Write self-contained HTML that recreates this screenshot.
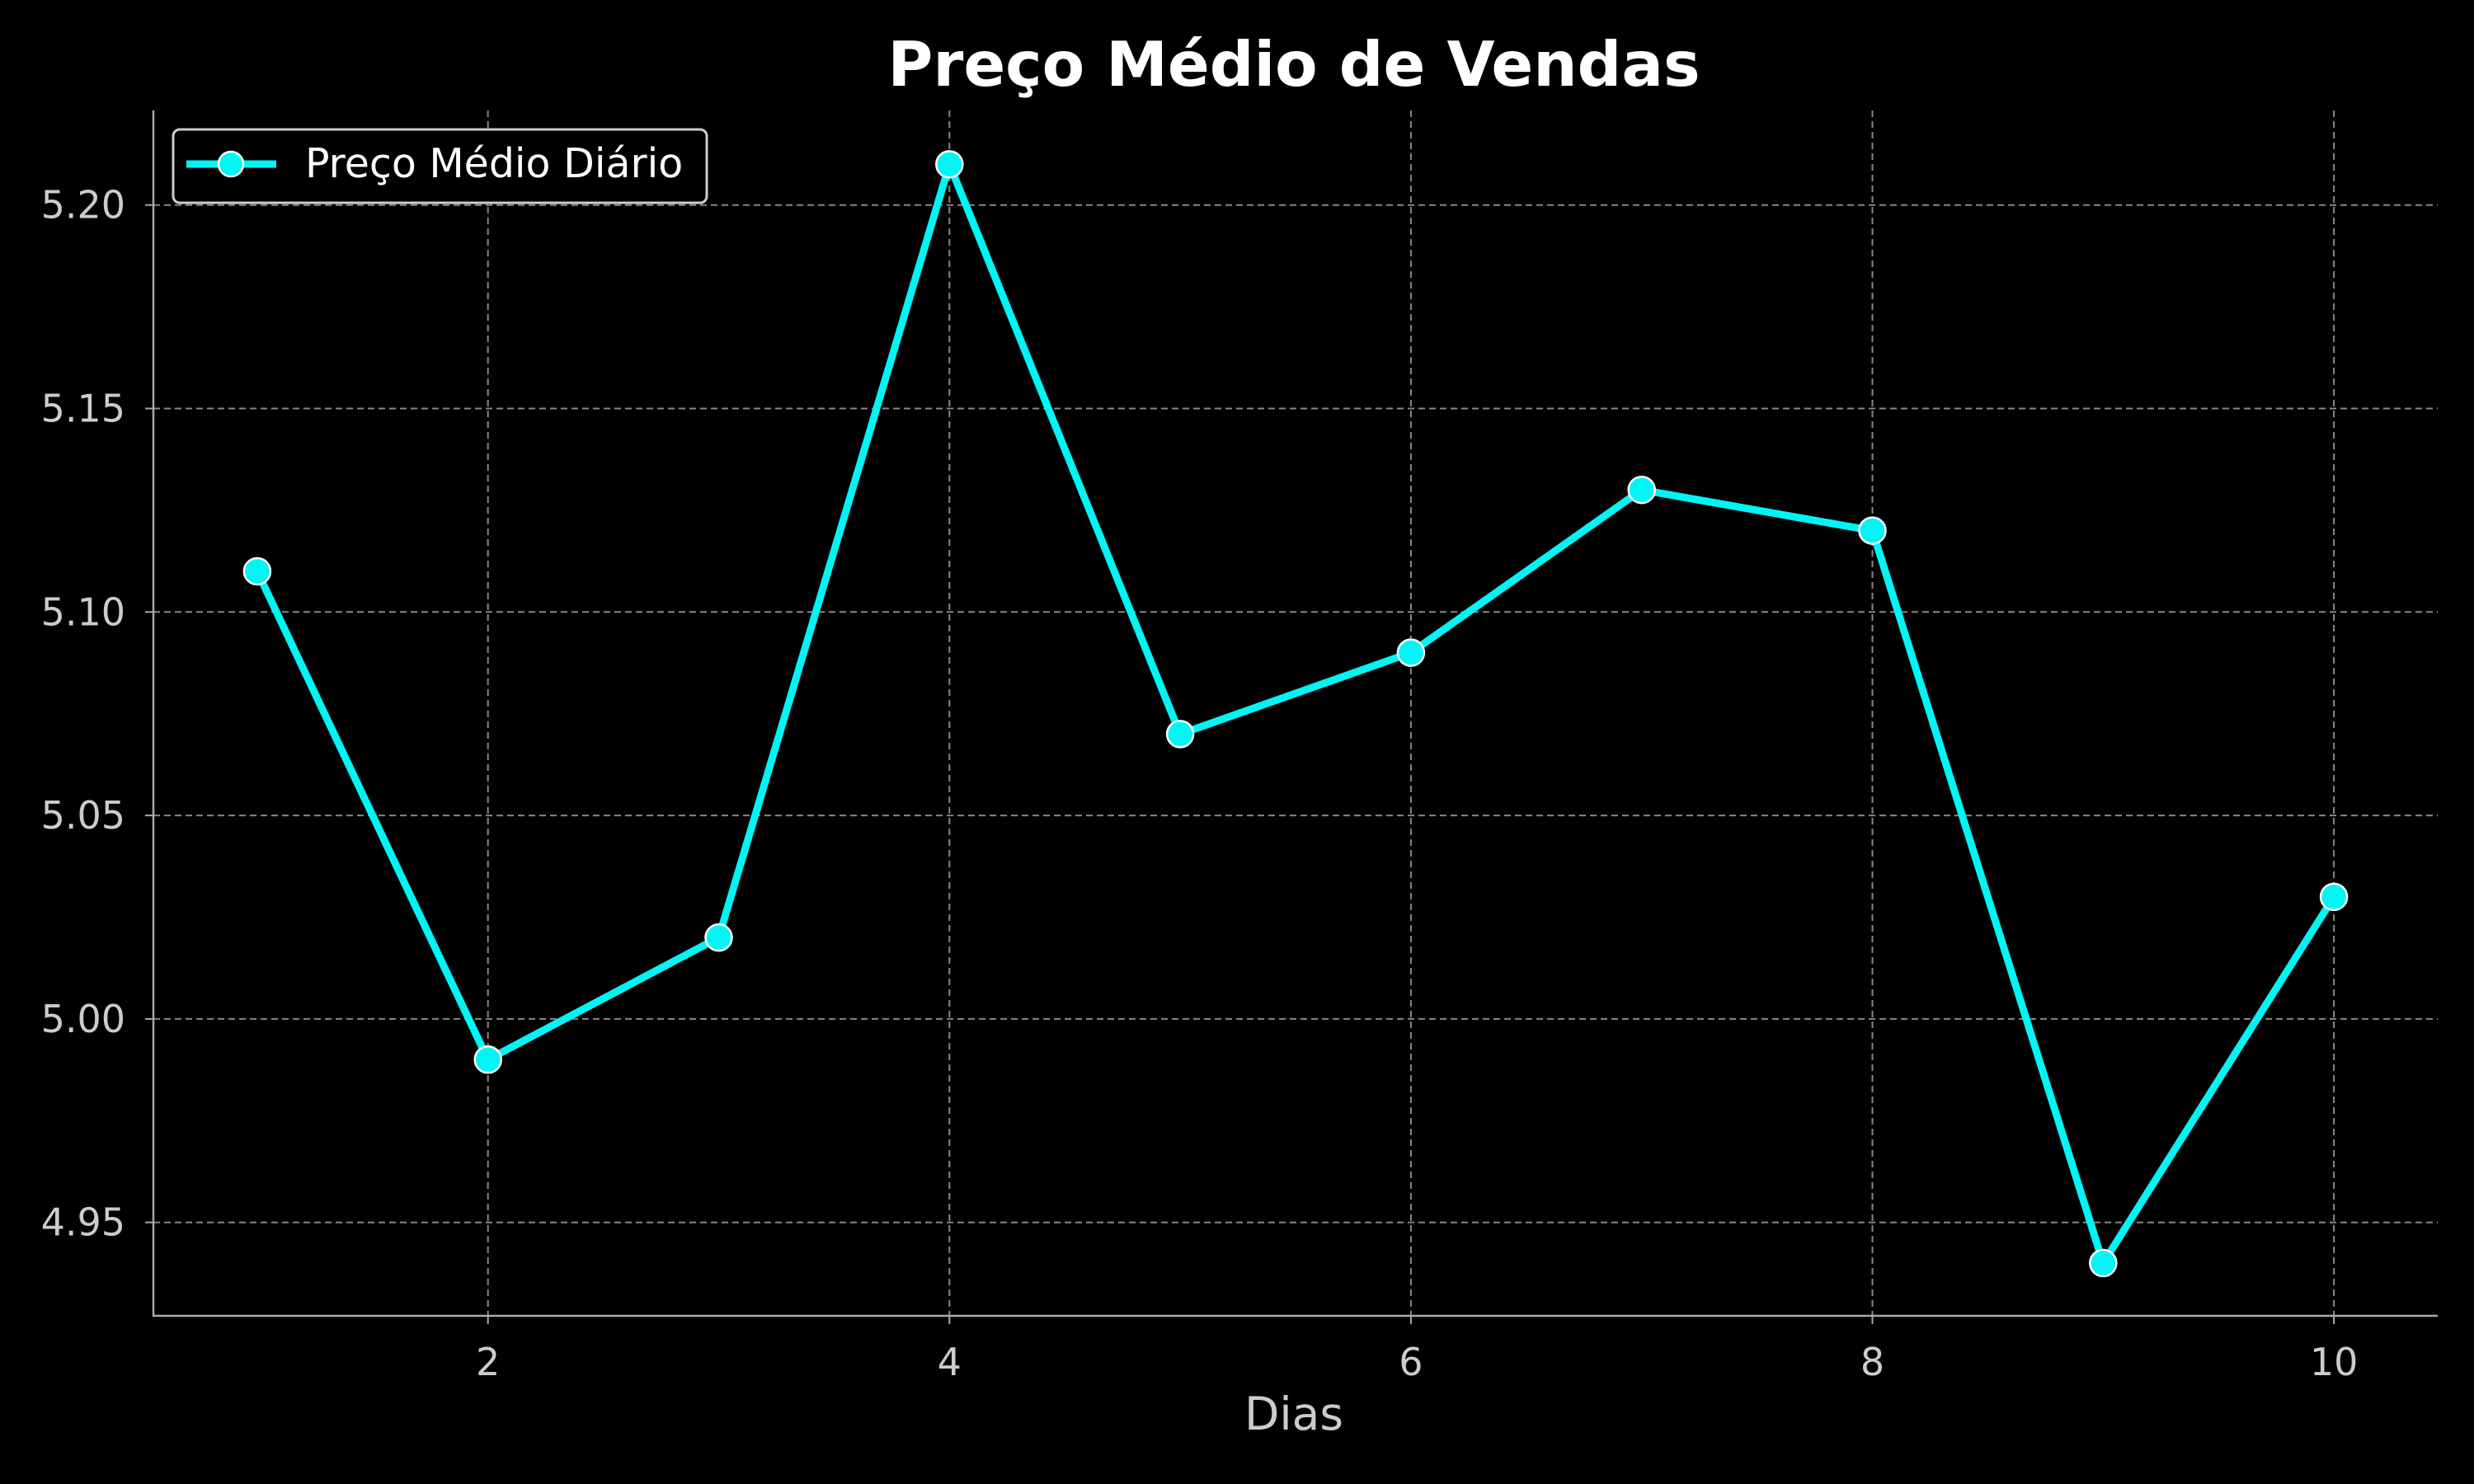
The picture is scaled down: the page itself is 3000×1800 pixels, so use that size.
<!DOCTYPE html>
<html><head><meta charset="utf-8"><style>
html,body{margin:0;padding:0;background:#000;}
svg{display:block;font-family:"DejaVu Sans","Liberation Sans",sans-serif;}
</style></head><body>
<svg id="chart" width="3000" height="1800" viewBox="0 0 3000 1800">
<rect width="3000" height="1800" fill="#000"/>
<text x="1569" y="104" text-anchor="middle" font-size="75" font-weight="bold" fill="#fff">Preço Médio de Vendas</text>
<g id="grid"></g><g id="axes"></g><g id="series"></g>
<text x="1569" y="1734" text-anchor="middle" font-size="55" fill="#ccc">Dias</text>
<g>
<rect x="210" y="157" width="647" height="89" rx="8" fill="#000" stroke="#ccc" stroke-width="3"/>
<line x1="226" y1="199" x2="335" y2="199" stroke="#00f5f5" stroke-width="9"/>
<circle cx="280" cy="199" r="15" fill="#00f5f5" stroke="#fff" stroke-width="2.5"/>
<text x="370" y="215" font-size="49" fill="#fff">Preço Médio Diário</text>
</g>
</svg>
<script>
const days=[1,2,3,4,5,6,7,8,9,10];
const prices=[5.11,4.99,5.02,5.21,5.07,5.09,5.13,5.12,4.94,5.03];
const xTicks=[2,4,6,8,10];
const yTicks=[4.95,5.00,5.05,5.10,5.15,5.20];
const yTickLabels=["4.95","5.00","5.05","5.10","5.15","5.20"];
const L=186,R=2956,T=134,B=1596;
const xs=v=>311.9+(v-1)*279.8;
const ys=v=>248.7+(5.20-v)*4936;
const NS="http://www.w3.org/2000/svg";
function mk(tag,attrs,parent){const e=document.createElementNS(NS,tag);for(const k in attrs)e.setAttribute(k,attrs[k]);parent.appendChild(e);return e;}
const grid=document.getElementById('grid'),axes=document.getElementById('axes'),ser=document.getElementById('series');
xTicks.forEach(t=>{
 const g=mk('line',{x1:xs(t),x2:xs(t),y1:T,y2:B,stroke:'#888','stroke-width':2,'stroke-dasharray':'8,5'},grid);
 
 
 const tk=mk('line',{x1:xs(t),x2:xs(t),y1:B,y2:B+10,stroke:'#aaa','stroke-width':2},axes);
 
 
 const tx=mk('text',{x:xs(t),y:1668,'text-anchor':'middle','font-size':46,fill:'#ccc'},axes);
 tx.textContent=String(t);
 
 
});
yTicks.forEach((t,i)=>{
 const g=mk('line',{x1:L,x2:R,y1:ys(t),y2:ys(t),stroke:'#888','stroke-width':2,'stroke-dasharray':'8,5'},grid);
 
 
 const tk=mk('line',{x1:L-10,x2:L,y1:ys(t),y2:ys(t),stroke:'#aaa','stroke-width':2},axes);
 
 
 const tx=mk('text',{x:L-34,y:ys(t)+16,'text-anchor':'end','font-size':46,fill:'#ccc'},axes);
 tx.textContent=yTickLabels[i];
 
 
});
const sp=mk('path',{d:`M${L},${T}V${B}H${R}`,fill:'none',stroke:'#aaa','stroke-width':2.5},axes);


const line=mk('polyline',{points:days.map((d,i)=>xs(d)+','+ys(prices[i])).join(' '),fill:'none',stroke:'#00f5f5','stroke-width':9,'stroke-linejoin':'round'},ser);


days.forEach((d,i)=>{
 const c=mk('circle',{cx:xs(d),cy:ys(prices[i]),r:16,fill:'#00f5f5',stroke:'#fff','stroke-width':2.5},ser);
 
 
});
</script>
</body></html>
